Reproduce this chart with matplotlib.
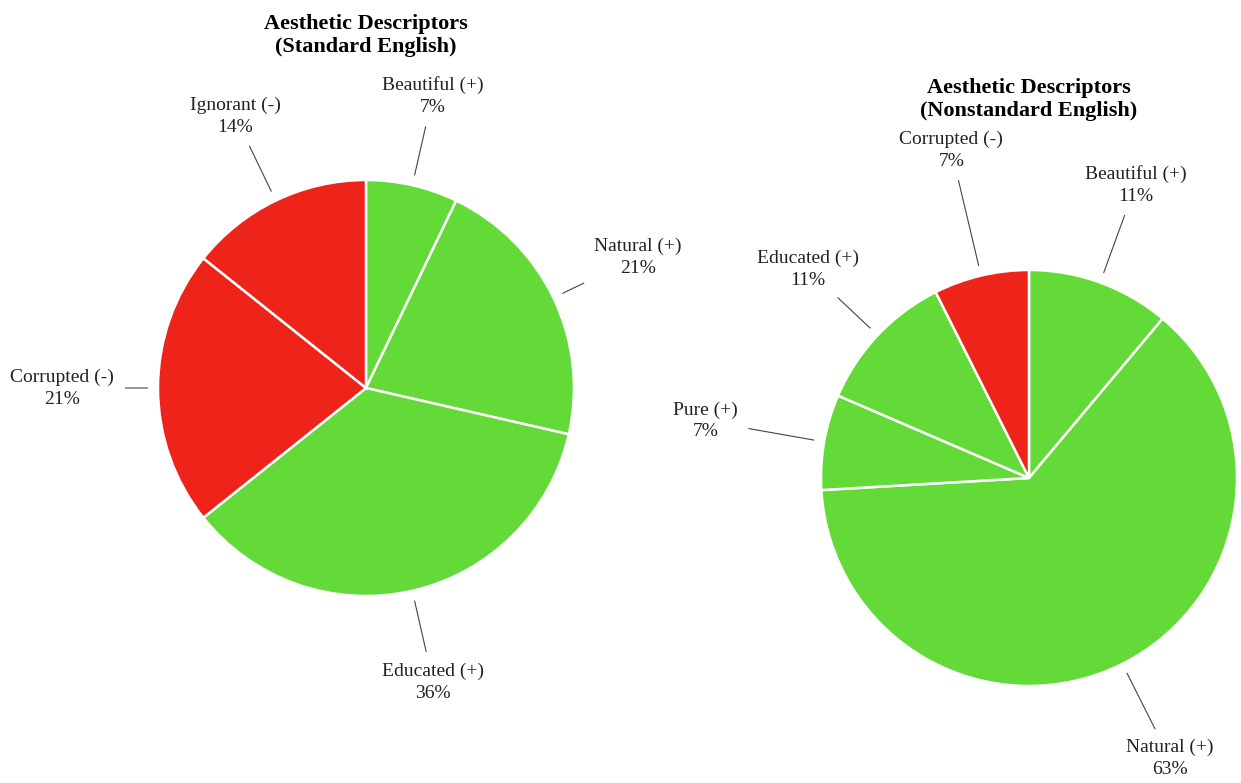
import numpy as np
import matplotlib
matplotlib.use("Agg")
import matplotlib.pyplot as plt

plt.rcParams['font.family'] = ['Liberation Serif', 'DejaVu Serif']

# data
std_labels = ['Beautiful (+)', 'Natural (+)', 'Educated (+)', 'Corrupted (-)', 'Ignorant (-)']
std_counts = [1, 3, 5, 3, 2]
std_signs = ['+', '+', '+', '-', '-']

non_labels = ['Beautiful (+)', 'Natural (+)', 'Pure (+)', 'Educated (+)', 'Corrupted (-)']
non_counts = [3, 17, 2, 3, 2]
non_signs = ['+', '+', '+', '+', '-']

# layout (label distance from centre, in pie radii)
std_label_r = [1.44, 1.45, 1.45, 1.46, 1.45]
non_label_r = [1.50, 1.51, 1.58, 1.46, 1.62]

GREEN = '#63DA38'
RED = '#EE2319'
W, H = 1241, 783
R_PX = 208
K = 1.9

fig = plt.figure(figsize=(W / 100, H / 100), dpi=100)


def draw_pie(cx, cy, title, title_y, labels, counts, signs, label_r):
    half = R_PX * K
    ax = fig.add_axes([(cx - half) / W, 1 - (cy + half) / H, 2 * half / W, 2 * half / H])
    colors = [GREEN if s == '+' else RED for s in signs]
    wedges, _ = ax.pie(counts, colors=colors, startangle=90, counterclock=False,
                       radius=1.0, wedgeprops=dict(edgecolor='white', linewidth=1.8))
    ax.set_xlim(-K, K)
    ax.set_ylim(-K, K)
    ax.axis('off')
    total = sum(counts)
    for w, lab, c, lr in zip(wedges, labels, counts, label_r):
        ang = np.deg2rad((w.theta1 + w.theta2) / 2)
        pct = round(c / total * 100)
        ax.annotate(f"{lab}\n{pct}%", xy=(1.05 * np.cos(ang), 1.05 * np.sin(ang)),
                    xytext=(lr * np.cos(ang), lr * np.sin(ang)),
                    ha='center', va='center', fontsize=14, color='#222222',
                    linespacing=1.37, annotation_clip=False,
                    arrowprops=dict(arrowstyle='-', color='#444444', lw=0.8,
                                    shrinkA=6, shrinkB=0))
    ax.text(0, title_y, title, ha='center', va='center', fontsize=16,
            fontweight='bold', linespacing=1.25, clip_on=False)


draw_pie(366, 388, 'Aesthetic Descriptors\n(Standard English)', 1.695,
         std_labels, std_counts, std_signs, std_label_r)
draw_pie(1029, 478, 'Aesthetic Descriptors\n(Nonstandard English)', 1.82,
         non_labels, non_counts, non_signs, non_label_r)

fig.savefig('out.png', dpi=100, facecolor='white')
